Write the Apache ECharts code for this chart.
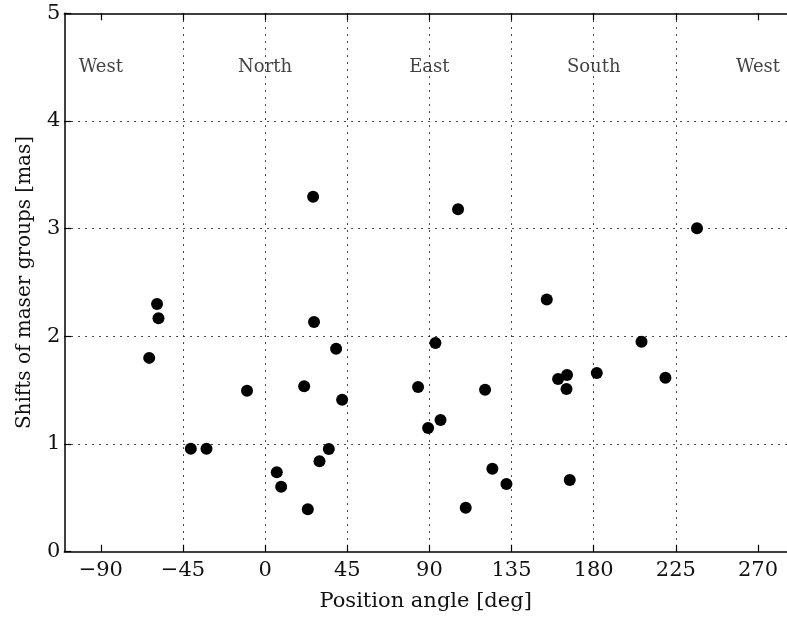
<!DOCTYPE html>
<html>
<head>
<meta charset="utf-8">
<script src="https://cdn.jsdelivr.net/npm/echarts@6/dist/echarts.min.js"></script>
<style>html,body{margin:0;padding:0;background:#fff}#c{width:787px;height:619px}</style>
</head>
<body>
<div id="c"></div>
<script>
const angles = [-59.2, -58.4, -63.5, -9.9, -40.7, -32.1,
  26.3, 26.8, 38.9, 21.4, 42.2, 34.9, 29.8, 6.4, 8.8, 23.4,
  105.7, 93.3, 83.8, 120.5, 96.1, 89.3, 124.5, 132.2, 109.9,
  154.3, 160.5, 165.4, 165.1, 181.7, 166.9,
  206.2, 219.3, 236.6];
const shifts = [2.30, 2.167, 1.80, 1.495, 0.956, 0.956,
  3.296, 2.133, 1.885, 1.536, 1.411, 0.954, 0.839, 0.737, 0.604, 0.394,
  3.18, 1.938, 1.529, 1.504, 1.223, 1.149, 0.771, 0.629, 0.409,
  2.343, 1.603, 1.641, 1.511, 1.659, 0.666,
  1.95, 1.616, 3.003];
const xTicks = [-90, -45, 0, 45, 90, 135, 180, 225, 270];
const dirNames = ['West', 'North', 'East', 'South', 'West'];
const dirAngles = [-90, 0, 90, 180, 270];
const dirLevel = 4.5;

const font = 'DejaVu Serif';
const chart = echarts.init(document.getElementById('c'), null, {renderer: 'canvas'});
const gridLine = {show: true, showMinLine: false, showMaxLine: false,
  lineStyle: {color: '#111', width: 1, type: [1.5, 5.5]}};
const axisLine = {show: true, onZero: false, lineStyle: {color: '#000', width: 1.5}};
const tick = {show: true, inside: true, length: 7, lineStyle: {color: '#000', width: 1.2}};

chart.setOption({
  animation: false,
  backgroundColor: '#fff',
  grid: {left: 64.3, top: 13.3, bottom: 67.3, right: 0, containLabel: false},
  xAxis: [{
    type: 'value', min: -110, max: 285.9, position: 'bottom',
    name: 'Position angle [deg]', nameLocation: 'middle', nameGap: 39,
    nameTextStyle: {fontFamily: font, fontSize: 21, color: '#111'},
    axisLine: axisLine,
    axisTick: Object.assign({}, tick, {customValues: xTicks}),
    axisLabel: {customValues: xTicks, fontFamily: font, fontSize: 21, color: '#111', margin: 8,
      formatter: v => (v < 0 ? '\u2212' + Math.abs(v) : '' + v)},
    splitLine: gridLine
  }, {
    type: 'value', min: -110, max: 285.9, position: 'top',
    axisLine: axisLine,
    axisTick: Object.assign({}, tick, {customValues: xTicks}),
    axisLabel: {show: false},
    splitLine: {show: false}
  }],
  yAxis: [{
    type: 'value', min: 0, max: 5, interval: 1, position: 'left',
    name: 'Shifts of maser groups [mas]', nameLocation: 'middle', nameGap: 30,
    nameTextStyle: {fontFamily: font, fontSize: 20, color: '#111'},
    axisLine: axisLine, axisTick: tick,
    axisLabel: {fontFamily: font, fontSize: 21, color: '#111', margin: 4},
    splitLine: gridLine
  }],
  series: [{
    type: 'scatter',
    symbol: 'circle', symbolSize: 12,
    itemStyle: {color: '#000', opacity: 1},
    data: angles.map((a, i) => [a, shifts[i]]),
    z: 5
  }, {
    type: 'scatter',
    symbolSize: 0,
    silent: true,
    data: dirAngles.map((a, i) => ({value: [a, dirLevel], name: dirNames[i]})),
    label: {show: true, position: 'inside', formatter: p => p.name,
      fontFamily: font, fontSize: 18, color: '#111'}
  }]
});
</script>
</body>
</html>
